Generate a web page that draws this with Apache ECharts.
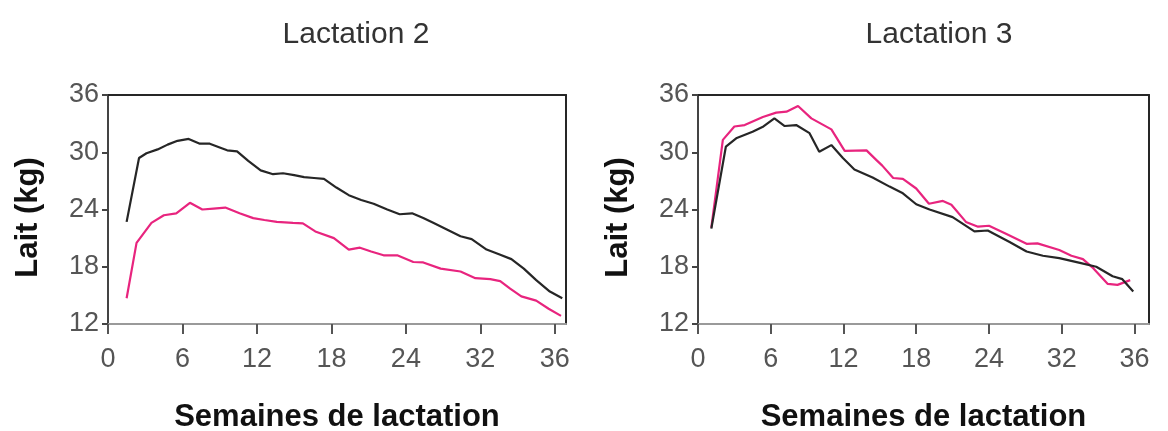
<!DOCTYPE html>
<html>
<head>
<meta charset="utf-8">
<script src="https://cdn.jsdelivr.net/npm/echarts@6/dist/echarts.min.js"></script>
<style>
  html, body { margin: 0; padding: 0; background: #ffffff; }
  #chart { width: 1168px; height: 431px; }
</style>
</head>
<body>
<div id="chart"></div>
<script>
// Milk yield (kg/day) by week of lactation, two lactations, two groups each
const panelTitles = ['Lactation 2', 'Lactation 3'];
const xTickValues = [0, 6, 12, 18, 24, 30, 36];
const xTickLabels = ['0', '6', '12', '18', '24', '32', '36'];
const yTicks = [12, 18, 24, 30, 36];

// Lactation 2 — [week, kg]
const lact2Black = [
  [1.5, 22.7], [2.5, 29.4], [3.1, 29.9], [4.0, 30.3], [4.8, 30.8], [5.6, 31.2],
  [6.5, 31.4], [7.4, 30.9], [8.2, 30.9], [9.0, 30.5], [9.6, 30.2], [10.4, 30.1],
  [11.3, 29.1], [12.3, 28.1], [13.3, 27.7], [14.1, 27.8], [15.0, 27.6], [15.8, 27.4],
  [16.6, 27.3], [17.4, 27.2], [18.4, 26.3], [19.4, 25.5], [20.4, 25.0], [21.4, 24.6],
  [22.5, 24.0], [23.5, 23.5], [24.5, 23.6], [25.4, 23.1], [26.2, 22.6], [27.3, 21.9],
  [28.4, 21.2], [29.3, 20.9], [30.5, 19.8], [31.5, 19.3], [32.5, 18.8], [33.5, 17.8],
  [34.5, 16.6], [35.6, 15.4], [36.6, 14.7]
];
const lact2Pink = [
  [1.5, 14.7], [2.3, 20.5], [3.5, 22.6], [4.5, 23.4], [5.5, 23.6], [6.6, 24.7],
  [7.6, 24.0], [8.5, 24.1], [9.45, 24.2], [10.6, 23.6], [11.7, 23.1], [12.6, 22.9],
  [13.6, 22.7], [14.9, 22.6], [15.7, 22.55], [16.7, 21.7], [18.2, 21.0], [19.4, 19.8],
  [20.3, 20.0], [21.2, 19.6], [22.2, 19.2], [23.3, 19.2], [24.6, 18.5], [25.4, 18.45],
  [26.8, 17.8], [28.4, 17.5], [29.6, 16.8], [30.8, 16.7], [31.6, 16.5], [32.4, 15.7],
  [33.3, 14.9], [34.5, 14.45], [35.5, 13.6], [36.5, 12.85]
];

// Lactation 3 — [week, kg]
const lact3Black = [
  [1.1, 22.0], [2.3, 30.6], [3.2, 31.5], [4.5, 32.15], [5.4, 32.7], [6.3, 33.55],
  [7.15, 32.75], [8.1, 32.85], [9.2, 32.0], [10.0, 30.05], [11.0, 30.75], [11.95, 29.4],
  [12.9, 28.2], [14.4, 27.35], [15.8, 26.4], [16.9, 25.7], [18.0, 24.55], [19.1, 24.0],
  [21.0, 23.2], [22.8, 21.7], [23.9, 21.8], [25.7, 20.6], [27.1, 19.6], [28.45, 19.15],
  [29.8, 18.9], [31.5, 18.4], [32.85, 18.0], [34.2, 17.0], [35.0, 16.7], [35.9, 15.4]
];
const lact3Pink = [
  [1.1, 22.1], [2.05, 31.3], [3.0, 32.7], [3.85, 32.85], [5.35, 33.7], [6.45, 34.15],
  [7.3, 34.25], [8.25, 34.85], [9.35, 33.55], [11.0, 32.4], [12.1, 30.15], [13.9, 30.2],
  [14.7, 29.2], [15.2, 28.6], [16.1, 27.3], [16.9, 27.2], [18.0, 26.2], [19.05, 24.6],
  [20.2, 24.9], [20.9, 24.5], [22.1, 22.7], [23.1, 22.2], [24.0, 22.3], [25.4, 21.45],
  [27.1, 20.4], [28.0, 20.45], [29.8, 19.75], [30.8, 19.15], [31.75, 18.8], [32.6, 17.85],
  [33.8, 16.2], [34.6, 16.1], [35.65, 16.6]
];

const FONT = '"Liberation Sans", Arial, sans-serif';
const BLACK = '#262626';
const PINK = '#e8247e';

const panels = [
  { grid: { left: 108, top: 95, width: 458, height: 229 }, xMax: 36.9, titleX: 351,
    series: [lact2Black, lact2Pink] },
  { grid: { left: 698, top: 95, width: 451, height: 229 }, xMax: 37.2, titleX: 934,
    series: [lact3Black, lact3Pink] }
];

const option = {
  backgroundColor: '#ffffff',
  animation: false,
  title: panels.map((p, i) => ({
    text: panelTitles[i],
    left: p.titleX,
    top: 15,
    textAlign: 'center',
    textStyle: { fontFamily: FONT, fontSize: 30, fontWeight: 'normal', color: '#333333' }
  })),
  grid: panels.map(p => Object.assign({ containLabel: false, outerBoundsMode: 'none' }, p.grid)),
  xAxis: [],
  yAxis: [],
  series: []
};

panels.forEach((p, i) => {
  // bottom axis with ticks and labels
  option.xAxis.push({
    type: 'value', gridIndex: i, min: 0, max: p.xMax, position: 'bottom',
    name: 'Semaines de lactation', nameLocation: 'middle', nameGap: 78,
    nameTextStyle: { fontFamily: FONT, fontSize: 31, fontWeight: 'bold', color: '#111111' },
    axisLine: { show: true, onZero: false, lineStyle: { color: '#9a9a9a', width: 2 } },
    axisTick: { show: true, inside: false, length: 10, customValues: xTickValues,
      lineStyle: { color: '#555555', width: 2 } },
    axisLabel: { show: true, margin: 22, customValues: xTickValues,
      formatter: v => xTickLabels[xTickValues.indexOf(v)],
      fontFamily: FONT, fontSize: 27, color: '#555555' },
    splitLine: { show: false }
  });
  // top frame edge
  option.xAxis.push({
    type: 'value', gridIndex: i, min: 0, max: p.xMax, position: 'top',
    axisLine: { show: true, onZero: false, lineStyle: { color: BLACK, width: 2 } },
    axisTick: { show: false }, axisLabel: { show: false }, splitLine: { show: false }
  });
  // left axis
  option.yAxis.push({
    type: 'value', gridIndex: i, min: yTicks[0], max: yTicks[yTicks.length - 1], interval: 6,
    position: 'left',
    name: 'Lait (kg)', nameLocation: 'middle', nameGap: 64,
    nameTextStyle: { fontFamily: FONT, fontSize: 31, fontWeight: 'bold', color: '#111111',
      padding: [0, 16, 0, 0] },
    axisLine: { show: true, onZero: false, lineStyle: { color: '#444444', width: 2 } },
    axisTick: { show: true, inside: false, length: 6, lineStyle: { color: '#444444', width: 2 } },
    axisLabel: { show: true, margin: 9, fontFamily: FONT, fontSize: 27, color: '#555555' },
    splitLine: { show: false }
  });
  // right frame edge
  option.yAxis.push({
    type: 'value', gridIndex: i, min: yTicks[0], max: yTicks[yTicks.length - 1],
    position: 'right',
    axisLine: { show: true, onZero: false, lineStyle: { color: BLACK, width: 2 } },
    axisTick: { show: false }, axisLabel: { show: false }, splitLine: { show: false }
  });

  const colors = [BLACK, PINK];
  p.series.forEach((data, k) => {
    option.series.push({
      type: 'line', xAxisIndex: i * 2, yAxisIndex: i * 2, data: data,
      showSymbol: false, symbol: 'none', smooth: false, z: k === 0 ? 3 : 2,
      lineStyle: { color: colors[k], width: 2.2 }
    });
  });
});

const chart = echarts.init(document.getElementById('chart'), null, { renderer: 'canvas' });
chart.setOption(option);
</script>
</body>
</html>
